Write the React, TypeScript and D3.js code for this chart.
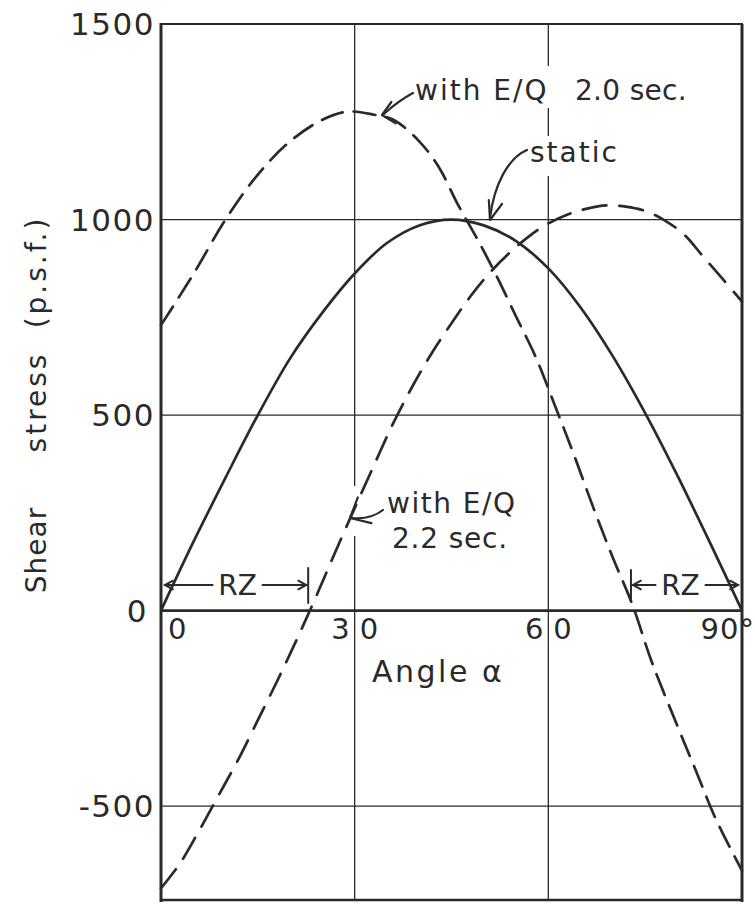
import React from "react";
import * as d3 from "d3";

const WIDTH = 755;
const HEIGHT = 904;
const INK = "#2a2a2a";
const FONT = "'DejaVu Sans', sans-serif";

// angle alpha (degrees) vs shear stress (p.s.f.)
const staticAngle = [0, 5, 10, 15, 20, 25, 30, 35, 40, 45, 50, 55, 60, 65, 70, 75, 80, 85, 90];
const staticStress = [0, 175, 340, 500, 645, 762, 862, 940, 985, 1000, 985, 945, 875, 775, 650, 505, 345, 175, 0];

const eq20Angle = [0, 5, 10, 15, 20, 25, 29, 33, 36, 40, 43, 46, 49, 52, 55, 58, 61, 64, 67, 70, 73, 76, 80, 83, 86, 90];
const eq20Stress = [730, 860, 1000, 1115, 1200, 1255, 1276, 1268, 1255, 1200, 1135, 1038, 950, 855, 752, 650, 525, 397, 262, 135, 16, -130, -295, -415, -535, -665];

const eq22Angle = [0, 3, 6, 9, 12, 15, 18, 21, 24, 27, 30, 33, 36, 39, 42, 45, 48, 51, 54, 57, 60, 63, 66, 69, 72, 75, 78, 81, 84, 87, 90];
const eq22Stress = [-710, -645, -560, -470, -380, -280, -180, -75, 35, 150, 262, 372, 480, 575, 660, 735, 805, 865, 915, 957, 990, 1013, 1028, 1036, 1033, 1022, 998, 962, 905, 848, 790];

const yTicks = [1500, 1000, 500, 0, -500];
const yTickLabels = ["1500", "1000", "500", "0", "-500"];
const xTicks = [0, 30, 60, 90];
const xTickLabels = ["0", "30", "60", "90°"];

// RZ zones along the angle axis
const rzZones = [
  [0, 22.8],
  [72.8, 90],
];

// open V arrow head, (dx,dy) = direction of travel into the tip
function vHead(tx: number, ty: number, dx: number, dy: number, len = 10, spread = 0.5) {
  const a = Math.atan2(dy, dx);
  const p1 = [tx - len * Math.cos(a - spread), ty - len * Math.sin(a - spread)];
  const p2 = [tx - len * Math.cos(a + spread), ty - len * Math.sin(a + spread)];
  return `M${p1[0]},${p1[1]}L${tx},${ty}L${p2[0]},${p2[1]}`;
}

export default function App() {
  const x = d3.scaleLinear().domain([0, 90]).range([161, 742]);
  const y = d3.scaleLinear().domain([-740, 1500]).range([900, 24]);

  const line = d3
    .line<number[]>()
    .x((d) => x(d[0]))
    .y((d) => y(d[1]))
    .curve(d3.curveCatmullRom.alpha(0.5));

  const zip = (a: number[], b: number[]) => a.map((v, i) => [v, b[i]]);

  const x0 = x(0);
  const x90 = x(90);
  const yTop = y(1500);
  const yBot = y(-740);

  const rzY = 585;

  return (
    <div style={{ position: "absolute", left: 0, top: 0 }}>
      <svg width={WIDTH} height={HEIGHT} style={{ display: "block", background: "#fff" }}>
        {/* grid */}
        {yTicks
          .filter((t) => t !== 1500)
          .map((t) => (
            <line
              key={"h" + t}
              x1={x0}
              x2={x90}
              y1={y(t)}
              y2={y(t)}
              stroke={INK}
              strokeWidth={t === 0 ? 2.6 : 1.3}
            />
          ))}
        {xTicks
          .filter((t) => t !== 0 && t !== 90)
          .map((t) => (
            <line key={"v" + t} x1={x(t)} x2={x(t)} y1={yTop} y2={yBot} stroke={INK} strokeWidth={1.3} />
          ))}

        {/* frame */}
        <line x1={x0} x2={x0} y1={yTop - 1} y2={yBot + 2} stroke={INK} strokeWidth={3} />
        <line x1={x0} x2={x90 + 1} y1={yTop} y2={yTop} stroke={INK} strokeWidth={2.2} />
        <line x1={x90} x2={x90} y1={yTop} y2={yBot + 2} stroke={INK} strokeWidth={3} />
        <line x1={x0} x2={x90} y1={yBot} y2={yBot} stroke={INK} strokeWidth={2.4} />

        {/* masks where lettering interrupts grid */}
        <rect x={405} y={66} width={290} height={42} fill="#fff" />
        <rect x={520} y={136} width={105} height={40} fill="#fff" />
        <rect x={x(30) - 4} y={486} width={8} height={50} fill="#fff" />

        {/* curves */}
        <path d={line(zip(staticAngle, staticStress)) || ""} fill="none" stroke={INK} strokeWidth={2.7} />
        <path
          d={line(zip(eq20Angle, eq20Stress)) || ""}
          fill="none"
          stroke={INK}
          strokeWidth={2.7}
          strokeDasharray="22,11"
          strokeLinecap="round"
        />
        <path
          d={line(zip(eq22Angle, eq22Stress)) || ""}
          fill="none"
          stroke={INK}
          strokeWidth={2.7}
          strokeDasharray="24,13"
          strokeLinecap="round"
        />

        {/* y tick labels */}
        {yTicks.map((t, i) => (
          <text
            key={"yl" + t}
            x={t === 0 ? x0 - 13 : x0 - 6}
            y={y(t)}
            dy="0.36em"
            textAnchor="end"
            fontFamily={FONT}
            fontSize={31}
            letterSpacing={1.5}
            fill={INK}
          >
            {yTickLabels[i]}
          </text>
        ))}

        {/* x tick labels */}
        {xTicks.map((t, i) => {
          let anchor = "middle";
          let xx = x(t) + 5;
          let ls = 10;
          if (t === 0) {
            anchor = "start";
            xx = x0 + 7;
            ls = 0;
          } else if (t === 90) {
            anchor = "end";
            xx = x90 + 13;
            ls = 1;
          }
          return (
            <text
              key={"xl" + t}
              x={xx}
              y={639}
              textAnchor={anchor}
              fontFamily={FONT}
              fontSize={29}
              letterSpacing={ls}
              fill={INK}
            >
              {xTickLabels[i]}
            </text>
          );
        })}

        {/* axis titles */}
        <text x={372} y={682} fontFamily={FONT} fontSize={30} letterSpacing={2.5} fill={INK}>
          Angle α
        </text>
        <g fontFamily={FONT} fontSize={28} fill={INK} textAnchor="middle">
          <text transform="translate(46,550) rotate(-90)" letterSpacing={1}>
            Shear
          </text>
          <text transform="translate(46,402) rotate(-90)" letterSpacing={3}>
            stress
          </text>
          <text transform="translate(46,272) rotate(-90)" letterSpacing={3}>
            (p.s.f.)
          </text>
        </g>

        {/* annotations */}
        <g fontFamily={FONT} fontSize={28} fill={INK}>
          <text x={415} y={100} letterSpacing={2}>
            with E/Q
          </text>
          <text x={575} y={100} letterSpacing={0.3}>
            2.0 sec.
          </text>
          <text x={530} y={162} letterSpacing={2}>
            static
          </text>
          <text x={387} y={513} letterSpacing={1.5}>
            with E/Q
          </text>
          <text x={392} y={548} letterSpacing={0.8}>
            2.2 sec.
          </text>
        </g>
        <g fill="none" stroke={INK} strokeWidth={2.2} strokeLinecap="round" strokeLinejoin="round">
          <path d="M413,93 Q398,101 384,114" />
          <path d={vHead(382, 115, -1, 0.2, 16, 0.75)} />
          <path d="M527,150 C508,158 494,185 490,218" />
          <path d={vHead(490, 220, -0.3, 1, 20, 0.35)} />
          <path d="M383,510 Q370,520 352,518" />
          <path d={vHead(350, 518, -1.34, 0.71, 22, 0.72)} />
        </g>

        {/* RZ markers */}
        {rzZones.map(([a, b], i) => {
          const xa = x(a);
          const xb = x(b);
          const mid = (xa + xb) / 2 + (b === 90 ? -6 : 3);
          const la = a === 0 ? xa + 4 : xa + 2;
          const rb = b === 90 ? xb - 4 : xb - 2;
          return (
            <g key={"rz" + i} stroke={INK} strokeWidth={2} fill="none" strokeLinecap="round">
              {a !== 0 && <line x1={xa} x2={xa} y1={rzY - 15} y2={rzY + 16} />}
              {b !== 90 && <line x1={xb} x2={xb} y1={rzY - 17} y2={rzY + 18} />}
              <line x1={la} x2={mid - 25} y1={rzY} y2={rzY} />
              <path d={vHead(la, rzY, -1, 0, 9, 0.5)} />
              <line x1={mid + 25} x2={rb} y1={rzY} y2={rzY} />
              <path d={vHead(rb, rzY, 1, 0, 9, 0.5)} />
              <text
                x={mid}
                y={rzY + 10}
                textAnchor="middle"
                fontFamily={FONT}
                fontSize={28}
                fill={INK}
                stroke="none"
              >
                RZ
              </text>
            </g>
          );
        })}
      </svg>
    </div>
  );
}
